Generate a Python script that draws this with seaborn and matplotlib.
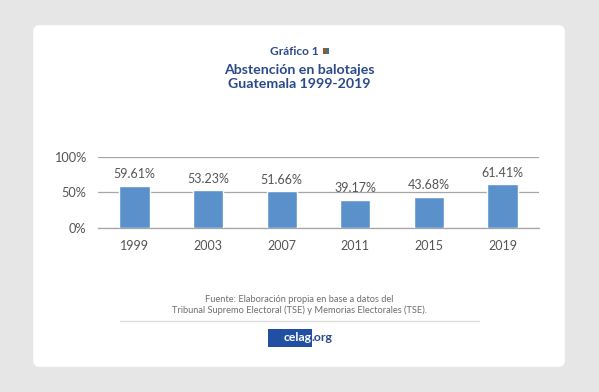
import pandas as pd
import numpy as np
import matplotlib
matplotlib.use('Agg')
import matplotlib.pyplot as plt
from matplotlib.patches import FancyBboxPatch, Rectangle
import seaborn as sns

years = ['1999', '2003', '2007', '2011', '2015', '2019']
abstention = [59.61, 53.23, 51.66, 39.17, 43.68, 61.41]
y_ticks = [0, 50, 100]
y_tick_labels = ['0%', '50%', '100%']

W, H = 599, 392
sns.set_theme(style='white')
plt.rcParams['font.family'] = ['Lato', 'DejaVu Sans']

BLUE = '#5b91cb'
NAVY = '#2b4a8b'
GRID = '#a6a6a6'
TEXT = '#555555'

fig = plt.figure(figsize=(W / 100, H / 100), dpi=100, facecolor='#e6e6e6')

# full-figure layer in pixel coordinates for the card and the texts around the chart
bg = fig.add_axes([0, 0, 1, 1])
bg.set_xlim(0, W)
bg.set_ylim(H, 0)
bg.axis('off')
bg.add_patch(FancyBboxPatch((36, 28), 526, 336, boxstyle='round,pad=0,rounding_size=3',
                            mutation_aspect=1, fc='white', ec='white', lw=4, joinstyle='round'))

bg.text(294, 51, 'Gráfico 1', ha='center', va='center', fontsize=8.6, fontweight='bold', color=NAVY)
# little flag next to the heading
for i, c in enumerate(['#b5482f', '#4d7d3c', '#4a6a9a']):
    bg.add_patch(Rectangle((322.5 + i * 2.3, 48), 2.3, 6, fc=c, ec='none'))
bg.text(299, 69.5, 'Abstención en balotajes', ha='center', va='center', fontsize=10.2,
        fontweight='bold', color=NAVY)
bg.text(299, 84, 'Guatemala 1999-2019', ha='center', va='center', fontsize=10.2,
        fontweight='bold', color=NAVY)

bg.text(299.5, 299, 'Fuente: Elaboración propia en base a datos del', ha='center', va='center',
        fontsize=6.7, color='#6e6e6e')
bg.text(299.5, 310.5, 'Tribunal Supremo Electoral (TSE) y Memorias Electorales (TSE).', ha='center',
        va='center', fontsize=6.7, color='#6e6e6e')
bg.plot([120, 479], [321, 321], color='#dcdcdc', lw=1)
bg.add_patch(Rectangle((268, 329), 44, 18, fc='#2150a3', ec='none'))
bg.text(311.5, 337.5, 'celag', ha='right', va='center', fontsize=8.8, fontweight='bold', color='white')
bg.text(311.5, 337.5, '.org', ha='left', va='center', fontsize=8.8, fontweight='bold', color='#2b4a8b')

# chart axes placed on the pixels of the reference plot area
left, right, top, bottom = 97.7, 539.3, 157.3, 227.5
ax = fig.add_axes([left / W, 1 - bottom / H, (right - left) / W, (bottom - top) / H])
ax.patch.set_alpha(0)

df = pd.DataFrame({'year': years, 'value': abstention})
sns.barplot(data=df, x='year', y='value', color=BLUE, saturation=1, width=0.41, ax=ax, zorder=3)

ax.set_xlim(-0.5, len(years) - 0.5)
ax.set_ylim(0, 100)
ax.set_xlabel('')
ax.set_ylabel('')
ax.set_yticks(y_ticks)
ax.set_yticklabels(y_tick_labels, fontsize=9.2, color=TEXT)
ax.yaxis.grid(True, color=GRID, lw=0.9, zorder=0)
ax.set_axisbelow(True)
for s in ['top', 'right', 'left']:
    ax.spines[s].set_visible(False)
ax.spines['bottom'].set_color(GRID)
ax.spines['bottom'].set_linewidth(0.9)

# ticks sit on the category boundaries, the labels in the middle
ax.set_xticks(np.arange(len(years)))
ax.set_xticklabels(years, fontsize=9, color=TEXT)
ax.tick_params(axis='x', length=0, pad=9)
ax.tick_params(axis='y', length=0, pad=8)
ax.set_xticks(np.arange(len(years) + 1) - 0.5, minor=True)
ax.tick_params(axis='x', which='minor', length=4, width=0.9, color=GRID)

for i, v in enumerate(abstention):
    ax.annotate(f'{v:.2f}%', (i, v), xytext=(0, 4), textcoords='offset points', ha='center',
                va='bottom', fontsize=9, color=TEXT, annotation_clip=False)

fig.savefig('out.png', dpi=100, facecolor=fig.get_facecolor())
